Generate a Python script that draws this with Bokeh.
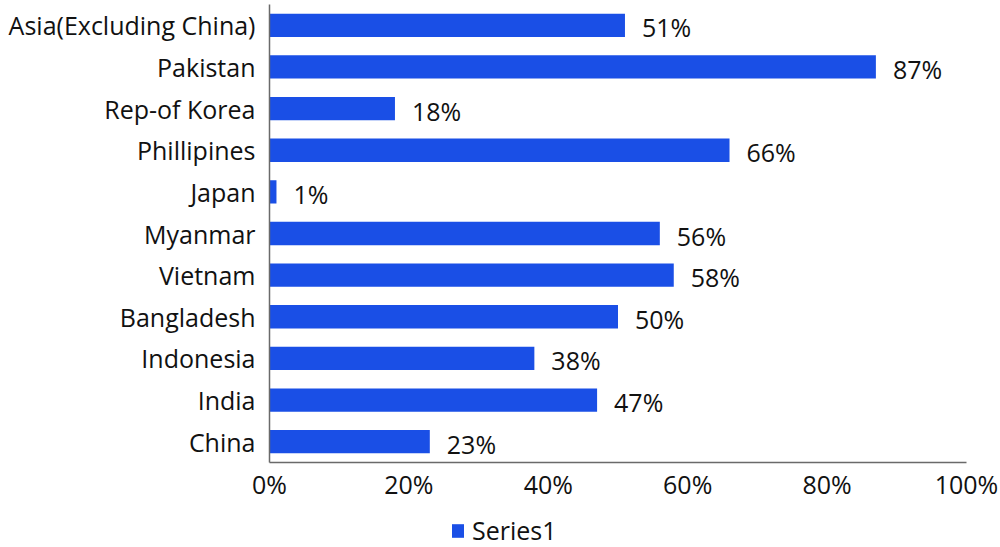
from bokeh.plotting import figure
from bokeh.layouts import column
from bokeh.models import ColumnDataSource, FactorRange, Range1d, FixedTicker, LabelSet, Legend, LegendItem
from bokeh.core.properties import value
from bokeh.embed import file_html
from bokeh.resources import INLINE

categories = ["Asia(Excluding China)", "Pakistan", "Rep-of Korea", "Phillipines", "Japan",
              "Myanmar", "Vietnam", "Bangladesh", "Indonesia", "India", "China"]
values = [51, 87, 18, 66, 1, 56, 58, 50, 38, 47, 23]
tick_values = [0, 20, 40, 60, 80, 100]
tick_labels = ["0%", "20%", "40%", "60%", "80%", "100%"]
series_name = "Series1"

FONT = "Open Sans"
TXT = "#111111"
BAR = "#1a4fe6"
AX = "#6a6a6a"
FS = "25px"

src = ColumnDataSource(dict(cat=categories, val=values, lbl=[f"{v}%" for v in values]))

p = figure(width=1000, height=507, output_backend="svg", toolbar_location=None,
           y_range=FactorRange(factors=list(reversed(categories))),
           x_range=Range1d(0, 100))
p.min_border_left = 269
p.min_border_right = 34
p.min_border_top = 4
p.min_border_bottom = 45
p.outline_line_color = None
p.xgrid.visible = False
p.ygrid.visible = False

r = p.hbar(y="cat", right="val", left=0, height=0.56, source=src, fill_color=BAR,
           line_color=None)

labels = LabelSet(x="val", y="cat", text="lbl", source=src, x_offset=17, y_offset=-2,
                  text_font=value(FONT), text_font_size=FS, text_color=TXT,
                  text_baseline="middle", text_align="left")
p.add_layout(labels)

p.xaxis.ticker = FixedTicker(ticks=tick_values)
p.xaxis.major_label_overrides = {t: l for t, l in zip(tick_values, tick_labels)}
for ax in (p.xaxis[0], p.yaxis[0]):
    ax.major_label_text_font = FONT
    ax.major_label_text_font_size = FS
    ax.major_label_text_color = TXT
    ax.axis_line_color = AX
    ax.axis_line_width = 1.5
    ax.major_tick_line_color = None
    ax.minor_tick_line_color = None
    ax.major_tick_out = 0
    ax.major_tick_in = 0
p.xaxis.major_label_standoff = 4
p.yaxis.major_label_standoff = 14

# legend strip below the chart: a zero-height copy of the series supplies the key glyph
p2 = figure(width=1000, height=40, output_backend="svg", toolbar_location=None,
            x_axis_type=None, y_axis_type=None,
            y_range=FactorRange(factors=list(reversed(categories))),
            x_range=Range1d(0, 100))
p2.min_border = 0
p2.outline_line_color = None
p2.xgrid.visible = False
p2.ygrid.visible = False
r2 = p2.hbar(y="cat", right="val", left=0, height=0, source=src, fill_color=BAR,
             line_color=None)

lg = Legend(items=[LegendItem(label=series_name, renderers=[r2])],
            location=(181, 0), orientation="horizontal")
lg.border_line_color = None
lg.background_fill_alpha = 0
lg.padding = 0
lg.margin = 0
lg.glyph_width = 15
lg.glyph_height = 17
lg.label_standoff = 7
lg.label_text_font = FONT
lg.label_text_font_size = FS
lg.label_text_color = TXT
p2.add_layout(lg, "center")

layout = column(p, p2, spacing=0)
open("out.html", "w").write(file_html(layout, INLINE))
